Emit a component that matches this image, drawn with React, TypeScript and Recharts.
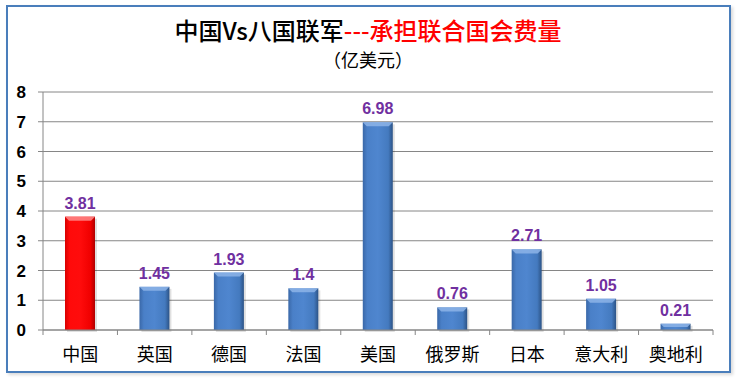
import React from "react";
import { BarChart, Bar, XAxis, YAxis, CartesianGrid, LabelList, Cell } from "recharts";

const categories = ["中国", "英国", "德国", "法国", "美国", "俄罗斯", "日本", "意大利", "奥地利"];
const values = [3.81, 1.45, 1.93, 1.4, 6.98, 0.76, 2.71, 1.05, 0.21];
const yTicks = [0, 1, 2, 3, 4, 5, 6, 7, 8];
const titleBlack = "中国Vs八国联军";
const titleRed = "---承担联合国会费量";
const subtitle = "（亿美元）";

const data = categories.map((name, i) => ({ name, value: values[i] }));

const CJK = "'Noto Sans CJK SC', 'Noto Sans', sans-serif";

const BevelBar = (props: any) => {
  const { x, y, width, height, index } = props;
  if (!height || height <= 0) return null;
  const red = index === 0;
  const fill = red ? "url(#gradRed)" : "url(#gradBlue)";
  const hl = red ? "#ff8a8a" : "#8db4e8";
  const b = Math.min(4, height / 2);
  return (
    <g>
      <rect x={x + 2} y={y + 2} width={width} height={height} fill="#000" opacity={0.12} />
      <rect x={x} y={y} width={width} height={height} fill={fill} />
      <polygon
        points={`${x},${y} ${x + width},${y} ${x + width - b},${y + b} ${x + b},${y + b}`}
        fill={hl}
        opacity={0.85}
      />
    </g>
  );
};

const AXIS_Y = 330;

const XTick = (props: any) => {
  const { x, payload, index } = props;
  const step = 670 / categories.length;
  const left = x - step / 2;
  return (
    <g>
      <line x1={left} y1={AXIS_Y} x2={left} y2={AXIS_Y + 5} stroke="#868686" />
      {index === categories.length - 1 && (
        <line x1={x + step / 2} y1={AXIS_Y} x2={x + step / 2} y2={AXIS_Y + 5} stroke="#868686" />
      )}
      <text x={x} y={AXIS_Y + 31} textAnchor="middle" fontSize={18} fontFamily={CJK} fill="#000">
        {payload.value}
      </text>
    </g>
  );
};

export default function App() {
  return (
    <div style={{ position: "absolute", left: 0, top: 0, width: 737, height: 380, background: "#fff" }}>
      <div
        style={{
          position: "absolute",
          left: 6,
          top: 5,
          width: 721,
          height: 364,
          border: "2.5px solid #4a7ebb",
          boxShadow: "2px 2px 3px rgba(0,0,0,0.15)",
        }}
      />
      <div style={{ position: "absolute", left: 0, top: 0 }}>
        <BarChart
          width={737}
          height={380}
          data={data}
          margin={{ top: 92, right: 24, bottom: 20, left: 0 }}
          barSize={30}
        >
          <defs>
            <linearGradient id="gradBlue" x1="0" y1="0" x2="1" y2="0">
              <stop offset="0%" stopColor="#3a68a8" />
              <stop offset="15%" stopColor="#4a80c8" />
              <stop offset="50%" stopColor="#4f86cf" />
              <stop offset="85%" stopColor="#447abf" />
              <stop offset="100%" stopColor="#2c5386" />
            </linearGradient>
            <linearGradient id="gradRed" x1="0" y1="0" x2="1" y2="0">
              <stop offset="0%" stopColor="#d80000" />
              <stop offset="15%" stopColor="#ff0a0a" />
              <stop offset="50%" stopColor="#ff0c0c" />
              <stop offset="85%" stopColor="#f00000" />
              <stop offset="100%" stopColor="#b00000" />
            </linearGradient>
          </defs>
          <text x={368} y={40} textAnchor="middle" fontSize={24} fontWeight={500} fontFamily={CJK}>
            <tspan fill="#000">{titleBlack}</tspan>
            <tspan fill="#ff0000">{titleRed}</tspan>
          </text>
          <text x={368} y={67} textAnchor="middle" fontSize={18} fontFamily={CJK} fill="#000">
            {subtitle}
          </text>
          <CartesianGrid vertical={false} stroke="#868686" strokeWidth={1} />
          <XAxis
            dataKey="name"
            height={30}
            axisLine={{ stroke: "#868686" }}
            tickLine={false}
            tick={<XTick />}
            interval={0}
          />
          <YAxis
            width={43}
            domain={[0, 8]}
            ticks={yTicks}
            axisLine={{ stroke: "#868686" }}
            tickLine={{ stroke: "#868686" }}
            tickSize={5}
            tickMargin={12}
            tick={{ fill: "#000", fontSize: 17, fontWeight: "bold", fontFamily: "'Liberation Sans', Arial, sans-serif" }}
          />
          <Bar dataKey="value" isAnimationActive={false} shape={<BevelBar />}>
            {data.map((d, i) => (
              <Cell key={i} fill={i === 0 ? "#ff0000" : "#4f81bd"} />
            ))}
            <LabelList
              dataKey="value"
              position="top"
              offset={8}
              fill="#7030a0"
              fontSize={16}
              fontWeight="bold"
              fontFamily="'Liberation Sans', Arial, sans-serif"
            />
          </Bar>
        </BarChart>
      </div>
    </div>
  );
}
